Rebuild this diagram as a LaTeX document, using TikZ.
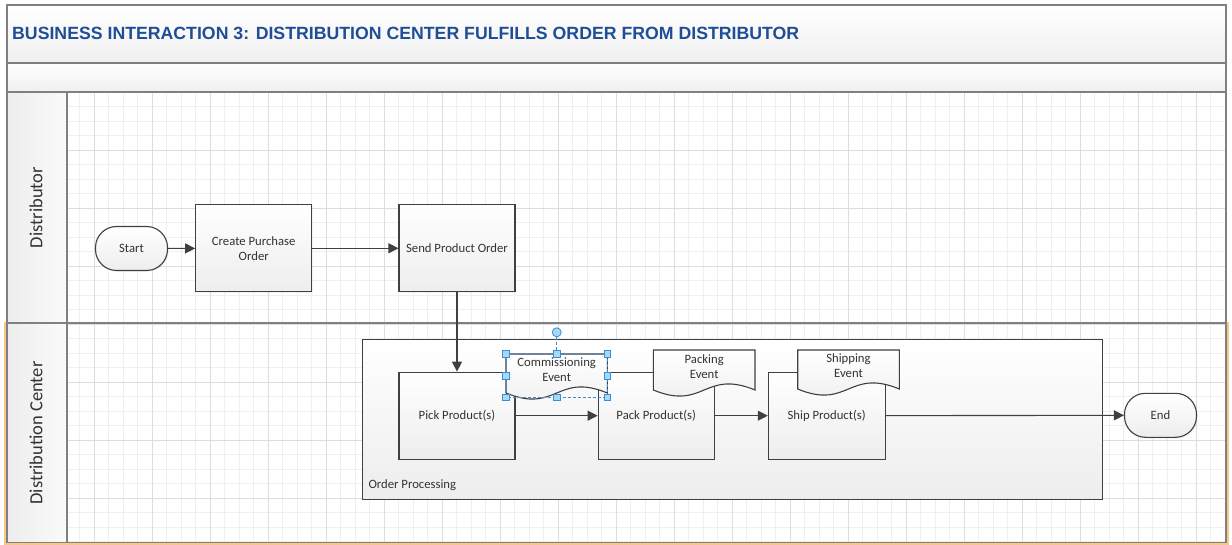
\documentclass[tikz,border=0pt]{standalone}
\usepackage{fontspec}
\setmainfont{Carlito}
\newfontfamily\titlefont{Liberation Sans}
\usetikzlibrary{arrows.meta,shadows}
\definecolor{linec}{HTML}{404040}
\definecolor{framec}{HTML}{808080}
\definecolor{gridmin}{HTML}{EFEFEF}
\definecolor{gridmaj}{HTML}{DDDDDD}
\definecolor{titleblue}{HTML}{1F4E96}
\definecolor{selorange}{HTML}{F9C888}
\definecolor{handlefill}{HTML}{A8D8F8}
\definecolor{handledraw}{HTML}{3A8ED6}
\definecolor{txt}{HTML}{333333}
\tikzset{
  boxtext/.style={font=\fontsize{12.7}{15}\selectfont, text=txt, align=center},
  procbox/.style={boxtext, draw=linec, line width=1.1pt, top color=white, bottom color=black!7,
     minimum width=116pt, minimum height=87pt, inner sep=2pt,
     drop shadow={shadow xshift=1.2pt, shadow yshift=-1.2pt, opacity=0.1}},
  termbox/.style={boxtext, draw=linec, line width=1.1pt, top color=white, bottom color=black!7,
     rounded corners=21pt, minimum width=72pt, minimum height=44pt, inner sep=2pt,
     drop shadow={shadow xshift=1.2pt, shadow yshift=-1.2pt, opacity=0.1}},
  docshape/.style={draw=linec, line width=1.1pt, top color=white, bottom color=black!7},
  doctext/.style={boxtext, inner sep=0pt},
  flow/.style={draw=linec, line width=1.1pt, -{Triangle[length=10pt,width=10pt]}},
  gridminor/.style={draw=gridmin, line width=0.8pt},
  gridmajor/.style={draw=gridmaj, line width=0.8pt},
  framel/.style={draw=framec, line width=1.4pt},
  lanelabel/.style={font=\fontsize{18.5}{20}\selectfont, text=txt, rotate=90},
  handle/.style={draw=handledraw, fill=handlefill, line width=0.8pt, minimum size=6.5pt, inner sep=0pt},
  rothandle/.style={draw=handledraw, fill=handlefill, line width=0.8pt, circle, minimum size=9pt, inner sep=0pt},
  seldash/.style={draw=handledraw, line width=0.8pt, dash pattern=on 3pt off 2pt},
}
\begin{document}
\begin{tikzpicture}[x=1pt,y=-1pt]
\useasboundingbox (0,0) rectangle (1232,545);
\fill[white] (0,0) rectangle (1232,545);
% title bands
\shade[top color=white, bottom color=black!6] (7,5) rectangle (1226,63);
\shade[top color=white, bottom color=black!6] (7,63) rectangle (1226,92);
% grid
\begin{scope}
\clip (67,92) rectangle (1226,542.5);
\foreach \i in {0,...,80} \draw[gridminor] ({79.8+14.5*\i},92) -- ({79.8+14.5*\i},543);
\foreach \i in {0,...,31} \draw[gridminor] (67,{92+14.5*\i}) -- (1226,{92+14.5*\i});
\foreach \i in {0,...,20} \draw[gridmajor] ({94.3+58*\i},92) -- ({94.3+58*\i},543);
\foreach \i in {0,...,8} \draw[gridmajor] (67,{92+58*\i}) -- (1226,{92+58*\i});
\end{scope}
% lane label columns
\shade[left color=black!7, right color=black!2] (7,92) rectangle (67,323);
\shade[left color=black!7, right color=black!2] (7,323) rectangle (67,542.5);
% orange selection of lane 2
\draw[selorange, line width=2.4pt] (5.2,323) rectangle (1227.6,544.2);
% frame lines
\draw[framel] (7,5) rectangle (1226,542.5);
\draw[framel] (7,63) -- (1226,63);
\draw[framel] (7,92) -- (1226,92);
\draw[framel] (7,323) -- (1226,323);
\draw[framel] (67,92) -- (67,542.5);
% title
\node[anchor=west, font=\titlefont\bfseries\fontsize{17.7}{20}\selectfont, text=titleblue, inner sep=0pt]
  (title) at (12,33) {BUSINESS INTERACTION 3: DISTRIBUTION CENTER FULFILLS ORDER FROM DISTRIBUTOR};
% lane labels
\node[lanelabel] (lane1) at (36,207.5) {Distributor};
\node[lanelabel] (lane2) at (36,433) {Distribution Center};
% container
\draw[draw=linec, line width=1.1pt, top color=white, bottom color=black!7] (362.5,339.3) rectangle (1102.3,499.3);
\node[boxtext, anchor=base west, inner sep=0pt] (oplabel) at (368.3,488) {Order Processing};
% nodes
\node[termbox] (start) at (131.5,248.5) {Start};
\node[procbox] (create) at (253.7,248.3) {Create Purchase\\Order};
\node[procbox] (send) at (457,248.3) {Send Product Order};
\node[procbox] (pick) at (457,415.7) {Pick Product(s)};
\node[procbox] (pack) at (656.2,415.7) {Pack Product(s)};
\node[procbox, minimum width=116.7pt] (ship) at (826.7,415.7) {Ship Product(s)};
\node[termbox] (end) at (1160.5,415.3) {End};
% connectors
\draw[flow] (start) -- (create);
\draw[flow] (create) -- (send);
\draw[flow] (send) -- (pick);
\draw[flow] (pick) -- (pack);
\draw[flow] (pack) -- (ship);
\draw[flow] (ship) -- (end);
% documents
\path[docshape] (506,354) -- (506,393) .. controls (556.7,414) and (556.7,372) .. (607.3,393) -- (607.3,354) -- cycle;
\node[doctext] (comm) at (556.7,370) {Commissioning\\Event};
\path[docshape] (653.3,350) -- (653.3,390) .. controls (704.2,411) and (704.2,369) .. (755,390) -- (755,350) -- cycle;
\node[doctext] (packev) at (704.2,366.5) {Packing\\Event};
\path[docshape] (797.7,350) -- (797.7,389) .. controls (848.5,410) and (848.5,368) .. (899.3,389) -- (899.3,350) -- cycle;
\node[doctext] (shipev) at (848.5,365.5) {Shipping\\Event};
% selection handles
\draw[seldash] (506,354) rectangle (607.3,397.3);
\node[rothandle] (rot) at (556.7,332.3) {};
\coordinate (topmid) at (556.7,354);
\draw[seldash] (rot) -- (topmid);
\foreach \hx in {506,556.7,607.3} {
  \node[handle] at (\hx,354) {};
  \node[handle] at (\hx,397.3) {};
}
\node[handle] at (506,375.7) {};
\node[handle] at (607.3,375.7) {};
\end{tikzpicture}
\end{document}
